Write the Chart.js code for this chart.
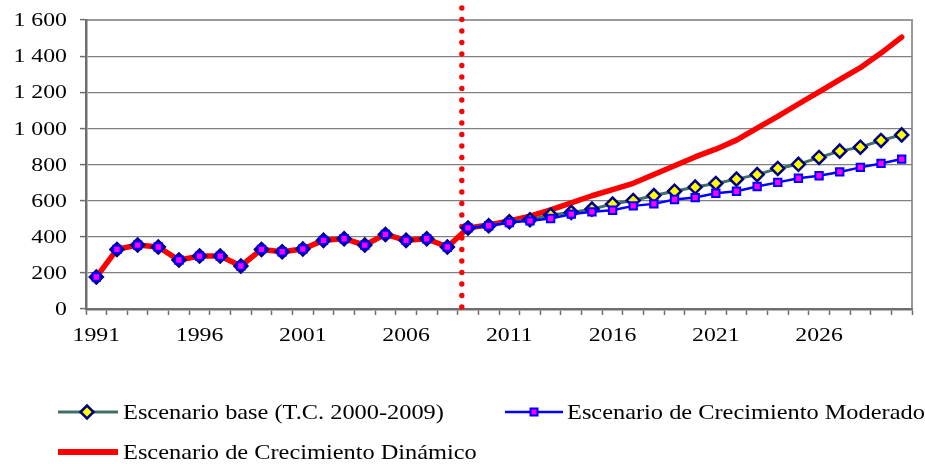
<!DOCTYPE html>
<html>
<head>
<meta charset="utf-8">
<script src="https://cdn.jsdelivr.net/npm/chart.js@4.4.0/dist/chart.umd.min.js"></script>
<style>
  html, body { margin: 0; padding: 0; background: #fff; }
  #wrap { width: 925px; height: 464px; }
</style>
</head>
<body>
<div id="wrap"><canvas id="grafico" width="925" height="464"></canvas></div>
<script>
// años del eje horizontal
const anios = ['1991','1992','1993','1994','1995','1996','1997','1998','1999','2000',
  '2001','2002','2003','2004','2005','2006','2007','2008','2009','2010',
  '2011','2012','2013','2014','2015','2016','2017','2018','2019','2020',
  '2021','2022','2023','2024','2025','2026','2027','2028','2029','2030'];

// datos observados 1991-2009 (comunes a los tres escenarios)
const historico = [177, 330, 354, 343, 271, 293, 293, 238, 330, 317,
  332, 380, 389, 354, 413, 380, 389, 343, 449];

// proyecciones 2010-2030
const escenarioBase = [461, 483, 494, 520, 535, 553, 581, 601, 628, 652,
  675, 695, 719, 744, 778, 801, 839, 874, 896, 933, 964];
const escenarioModerado = [461, 479, 488, 501, 525, 538, 547, 571, 582, 606,
  617, 641, 652, 678, 701, 724, 738, 759, 784, 806, 830];
const escenarioDinamico = [465, 488, 514, 549, 588, 627, 661, 696, 745, 793,
  842, 885, 935, 1001, 1067, 1135, 1202, 1270, 1336, 1417, 1505];

const ticksY = [0, 200, 400, 600, 800, 1000, 1200, 1400, 1600];

const nombres = ['Escenario base (T.C. 2000-2009)',
  'Escenario de Crecimiento Moderado',
  'Escenario de Crecimiento Dinámico'];

const ultimoHist = historico.length - 1;
const fuente = '"Liberation Serif", "Times New Roman", serif';

const miles = v => String(v).replace(/\B(?=(\d{3})+(?!\d))/g, ' ');

// el grafico original esta algo estirado a lo ancho, asi que el texto tambien
const textoAncho = (ctx, t, x, y, tam, estiramiento, alineado) => {
  ctx.save();
  ctx.translate(x, y);
  ctx.scale(estiramiento, 1);
  ctx.font = tam + 'px ' + fuente;
  ctx.fillStyle = '#000';
  ctx.textBaseline = 'middle';
  ctx.textAlign = alineado;
  ctx.fillText(t, 0, 0);
  ctx.restore();
};

// marcadores para la leyenda
const rombo = (ctx, x, y) => {
  ctx.beginPath();
  ctx.moveTo(x - 6.5, y); ctx.lineTo(x, y - 6.5); ctx.lineTo(x + 6.5, y); ctx.lineTo(x, y + 6.5);
  ctx.closePath();
  ctx.fillStyle = '#ffff00'; ctx.fill();
  ctx.lineWidth = 2.5; ctx.strokeStyle = '#000080'; ctx.stroke();
};
const cuadro = (ctx, x, y) => {
  ctx.fillStyle = '#ff00ff';
  ctx.fillRect(x - 3.5, y - 3.5, 7, 7);
  ctx.lineWidth = 2; ctx.strokeStyle = '#0000ff';
  ctx.strokeRect(x - 3.5, y - 3.5, 7, 7);
};

// linea punteada roja que separa datos observados de proyecciones
const separador = {
  id: 'separador',
  beforeDatasetsDraw(chart) {
    const { ctx, chartArea, scales } = chart;
    const x = scales.x.getPixelForValue(17.7);
    ctx.save();
    ctx.fillStyle = '#ff0000';
    for (let y = chartArea.bottom - 2; y > chartArea.top - 16; y -= 11.5) {
      ctx.beginPath();
      ctx.arc(x, y, 2.7, 0, Math.PI * 2);
      ctx.fill();
    }
    ctx.restore();
  }
};

// marco superior y derecho del area de trazado
const marco = {
  id: 'marco',
  beforeDraw(chart) {
    const { ctx, chartArea } = chart;
    ctx.save();
    ctx.strokeStyle = '#9a9a9a';
    ctx.lineWidth = 2;
    ctx.beginPath();
    ctx.moveTo(chartArea.left, chartArea.top);
    ctx.lineTo(chartArea.right, chartArea.top);
    ctx.lineTo(chartArea.right, chartArea.bottom);
    ctx.stroke();
    ctx.restore();
  }
};

// etiquetas de los ejes, ubicadas con las escalas de chart.js
const etiquetas = {
  id: 'etiquetas',
  afterDraw(chart) {
    const { ctx, scales } = chart;
    ticksY.forEach(v => {
      textoAncho(ctx, miles(v), 67, scales.y.getPixelForValue(v) + 1, 19.5, 1.22, 'right');
    });
    anios.forEach((a, i) => {
      if (i % 5 !== 0) return;
      textoAncho(ctx, a, scales.x.getPixelForValue(i), 336, 19.5, 1.22, 'center');
    });
  }
};

// leyenda propia (dos columnas, dos filas)
const leyenda = {
  id: 'leyenda',
  afterDraw(chart) {
    const ctx = chart.ctx;
    ctx.save();
    ctx.lineCap = 'butt';
    // base
    ctx.strokeStyle = '#3f6f66'; ctx.lineWidth = 3;
    ctx.beginPath(); ctx.moveTo(58, 412); ctx.lineTo(118, 412); ctx.stroke();
    rombo(ctx, 87, 412);
    textoAncho(ctx, nombres[0], 123, 413, 21, 1.16, 'left');
    // moderado
    ctx.strokeStyle = '#0000ff'; ctx.lineWidth = 2.5;
    ctx.beginPath(); ctx.moveTo(505, 412); ctx.lineTo(563, 412); ctx.stroke();
    cuadro(ctx, 534, 412);
    textoAncho(ctx, nombres[1], 567, 413, 21, 1.16, 'left');
    // dinamico
    ctx.strokeStyle = '#ff0000'; ctx.lineWidth = 6;
    ctx.beginPath(); ctx.moveTo(58, 452); ctx.lineTo(118, 452); ctx.stroke();
    textoAncho(ctx, nombres[2], 123, 453, 21, 1.16, 'left');
    ctx.restore();
  }
};

const serieBase = historico.concat(escenarioBase);
const serieModerada = historico.concat(escenarioModerado);
const serieDinamica = historico.concat(escenarioDinamico);

const ocultarHistorico = ctx => ctx.p1DataIndex <= ultimoHist ? 'rgba(0,0,0,0)' : undefined;

const config = {
  type: 'line',
  data: {
    labels: anios,
    datasets: [
      {
        label: nombres[1],
        data: serieModerada,
        order: 1,
        borderColor: '#0000ff',
        borderWidth: 2.5,
        segment: { borderColor: ocultarHistorico },
        pointStyle: 'rect',
        pointRadius: 5.2,
        pointBorderWidth: 2,
        pointBorderColor: '#0000ff',
        pointBackgroundColor: '#ff00ff',
        tension: 0
      },
      {
        label: nombres[0],
        data: serieBase,
        order: 2,
        borderColor: '#3f6f66',
        borderWidth: 3,
        segment: { borderColor: ocultarHistorico },
        pointStyle: 'rectRot',
        pointRadius: 6.5,
        pointBorderWidth: 2.5,
        pointBorderColor: '#000080',
        pointBackgroundColor: serieBase.map((v, i) => i <= ultimoHist ? '#1a1ae6' : '#ffff00'),
        tension: 0
      },
      {
        label: nombres[2],
        data: serieDinamica,
        order: 3,
        borderColor: '#ff0000',
        borderWidth: 5.5,
        borderJoinStyle: 'round',
        borderCapStyle: 'round',
        pointRadius: 0,
        tension: 0
      }
    ]
  },
  options: {
    responsive: false,
    animation: false,
    devicePixelRatio: 1,
    layout: { padding: { top: 20, right: 13, bottom: 105, left: 0 } },
    plugins: {
      legend: { display: false },
      tooltip: { enabled: false },
      title: { display: false }
    },
    scales: {
      x: {
        type: 'category',
        offset: true,
        afterFit: s => { s.height = 50; },
        grid: {
          offset: true,
          drawOnChartArea: false,
          drawTicks: true,
          tickLength: 6,
          tickColor: '#6e6e6e',
          tickWidth: 1.5
        },
        border: { display: true, color: '#6e6e6e', width: 2.5 },
        ticks: { display: false, autoSkip: false }
      },
      y: {
        min: ticksY[0],
        max: ticksY[ticksY.length - 1],
        afterFit: s => { s.width = 86; },
        afterBuildTicks: s => { s.ticks = ticksY.map(v => ({ value: v })); },
        grid: {
          color: c => (c.tick && (c.tick.value === 0 || c.tick.value === 1600)) ? 'rgba(0,0,0,0)' : '#808080',
          lineWidth: 1.2,
          borderDash: [9, 6],
          drawTicks: true,
          tickLength: 6,
          tickColor: '#6e6e6e',
          tickBorderDash: [],
          tickWidth: 1.5
        },
        border: { display: true, color: '#6e6e6e', width: 2.5 },
        ticks: { display: false }
      }
    }
  },
  plugins: [marco, separador, etiquetas, leyenda]
};

const grafico = new Chart(document.getElementById('grafico'), config);
</script>
</body>
</html>
